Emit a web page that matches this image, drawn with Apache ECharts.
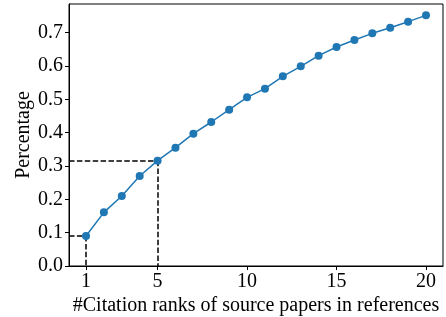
<!DOCTYPE html>
<html>
<head>
<meta charset="utf-8">
<script src="https://cdn.jsdelivr.net/npm/echarts@6/dist/echarts.min.js"></script>
<style>
  html, body { margin: 0; padding: 0; background: #fff; }
  #chart { width: 446px; height: 317px; }
</style>
</head>
<body>
<div id="chart"></div>
<script>
// citation rank -> cumulative percentage
const ranks = [1, 2, 3, 4, 5, 6, 7, 8, 9, 10, 11, 12, 13, 14, 15, 16, 17, 18, 19, 20]
const percentage = [0.09, 0.161, 0.21, 0.27, 0.316, 0.355, 0.397, 0.432, 0.469, 0.506,
  0.532, 0.569, 0.599, 0.631, 0.657, 0.678, 0.698, 0.715, 0.733, 0.752]
const xTicks = [1, 5, 10, 15, 20]
const yTicks = [0, 0.1, 0.2, 0.3, 0.4, 0.5, 0.6, 0.7]
const highlightRanks = [1, 5]

const xMin = 0.05
const xMax = 20.95
const yMax = 0.786

const font = 'Liberation Serif'
const chart = echarts.init(document.getElementById('chart'))

// dashed guides from highlighted points to both axes
const guides = []
highlightRanks.forEach(r => {
  const v = percentage[ranks.indexOf(r)]
  guides.push([{ coord: [xMin, v] }, { coord: [r, v] }])
  guides.push([{ coord: [r, v] }, { coord: [r, 0] }])
})

chart.setOption({
  animation: false,
  grid: {
    left: 69,
    right: 3,
    top: 4,
    bottom: 51,
    outerBoundsMode: 'none',
    containLabel: false,
    show: true,
    borderColor: '#000',
    borderWidth: 1
  },
  xAxis: {
    type: 'value',
    min: xMin,
    max: xMax,
    name: '#Citation ranks of source papers in references',
    nameLocation: 'middle',
    nameGap: 30,
    nameMoveOverlap: false,
    nameTextStyle: { fontFamily: font, fontSize: 20, color: '#000' },
    axisLine: { show: true, onZero: false, lineStyle: { color: '#000' } },
    axisTick: { show: true, length: 4, customValues: xTicks, lineStyle: { color: '#000' } },
    axisLabel: { customValues: xTicks, fontFamily: font, fontSize: 20, color: '#000', margin: 6 },
    splitLine: { show: false }
  },
  yAxis: {
    type: 'value',
    min: 0,
    max: yMax,
    name: 'Percentage',
    nameLocation: 'middle',
    nameGap: 35,
    nameMoveOverlap: false,
    nameTextStyle: { fontFamily: font, fontSize: 20, color: '#000' },
    axisLine: { show: true, lineStyle: { color: '#000' } },
    axisTick: { show: true, length: 4, customValues: yTicks, lineStyle: { color: '#000' } },
    axisLabel: {
      customValues: yTicks,
      fontFamily: font,
      fontSize: 20,
      color: '#000',
      margin: 6,
      formatter: v => v.toFixed(1)
    },
    splitLine: { show: false }
  },
  series: [
    {
      type: 'line',
      data: ranks.map((r, i) => [r, percentage[i]]),
      symbol: 'circle',
      symbolSize: 8,
      lineStyle: { color: '#1f77b4', width: 1.5 },
      itemStyle: { color: '#1f77b4' },
      z: 3,
      markLine: {
        silent: true,
        symbol: 'none',
        label: { show: false },
        lineStyle: { color: '#000', type: [5.5, 2.4], width: 1.5 },
        data: guides,
        z: 2
      }
    }
  ]
})
</script>
</body>
</html>
